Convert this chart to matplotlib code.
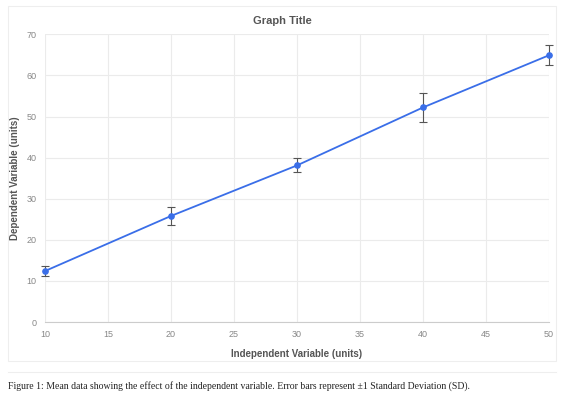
import matplotlib
matplotlib.use("Agg")
import matplotlib.pyplot as plt
from matplotlib.patches import Rectangle

# ---------- DATA ----------
x_vals = [10, 20, 30, 40, 50]
y_means = [12.4, 25.8, 38.1, 52.2, 64.9]
y_sd = [1.2, 2.1, 1.7, 3.5, 2.4]
x_ticks = [10, 15, 20, 25, 30, 35, 40, 45, 50]
y_ticks = [0, 10, 20, 30, 40, 50, 60, 70]

TITLE = "Graph Title"
XLABEL = "Independent Variable (units)"
YLABEL = "Dependent Variable (units)"
CAPTION = ("Figure 1: Mean data showing the effect of the independent variable. "
           "Error bars represent \u00b11 Standard Deviation (SD).")
# --------------------------

SANS = ["Liberation Sans", "DejaVu Sans"]
W, H = 561, 400
fig = plt.figure(figsize=(W / 100, H / 100), dpi=100)
fig.patch.set_facecolor("white")

# light panel behind the chart
fig.patches.append(Rectangle((8 / W, 1 - 361 / H), 548 / W, 355 / H,
                             transform=fig.transFigure, fill=False,
                             edgecolor="#eeeeee", linewidth=0.8))
# separator above caption
fig.add_artist(plt.Line2D([8 / W, 556 / W], [1 - 372 / H, 1 - 372 / H],
                          transform=fig.transFigure, color="#eeeeee", linewidth=0.8))

ax = fig.add_axes([45 / W, 1 - 322 / H, 504 / W, (322 - 34.3) / H])

eb = ax.errorbar(x_vals, y_means, yerr=y_sd, color="#3a6ee8", linewidth=1.3,
                 marker="o", markersize=3.8, markerfacecolor="#3a6ee8",
                 ecolor="#555555", elinewidth=0.8, capsize=3, capthick=0.8, zorder=3)
line, caps, bars = eb.lines
for art in [line] + list(caps) + list(bars):
    art.set_clip_on(False)

ax.set_xlim(10, 50)
ax.set_ylim(0, 70)
ax.set_xticks(x_ticks)
ax.set_yticks(y_ticks)
ax.grid(True, color="#ebebeb", linewidth=0.8)
ax.set_axisbelow(True)
for side in ["top", "right", "left"]:
    ax.spines[side].set_visible(False)
ax.spines["bottom"].set_color("#cccccc")
ax.spines["bottom"].set_linewidth(0.8)
ax.tick_params(length=0, labelsize=6.5, labelcolor="#888888", pad=6)
for lbl in ax.get_xticklabels() + ax.get_yticklabels():
    lbl.set_family(SANS)

ax.set_xlabel(XLABEL, fontsize=7, fontweight="bold", color="#555555",
              family=SANS, labelpad=7)
ax.set_ylabel(YLABEL, fontsize=7, fontweight="bold", color="#555555",
              family=SANS, labelpad=5)

fig.text(282 / W, 1 - 21 / H, TITLE, ha="center", va="center", fontsize=8,
         fontweight="bold", color="#555555", family=SANS)
fig.text(8 / W, 1 - 386 / H, CAPTION, ha="left", va="center", fontsize=7,
         color="#222222", family=["Liberation Serif", "DejaVu Serif"])

fig.savefig("out.png", dpi=100)
